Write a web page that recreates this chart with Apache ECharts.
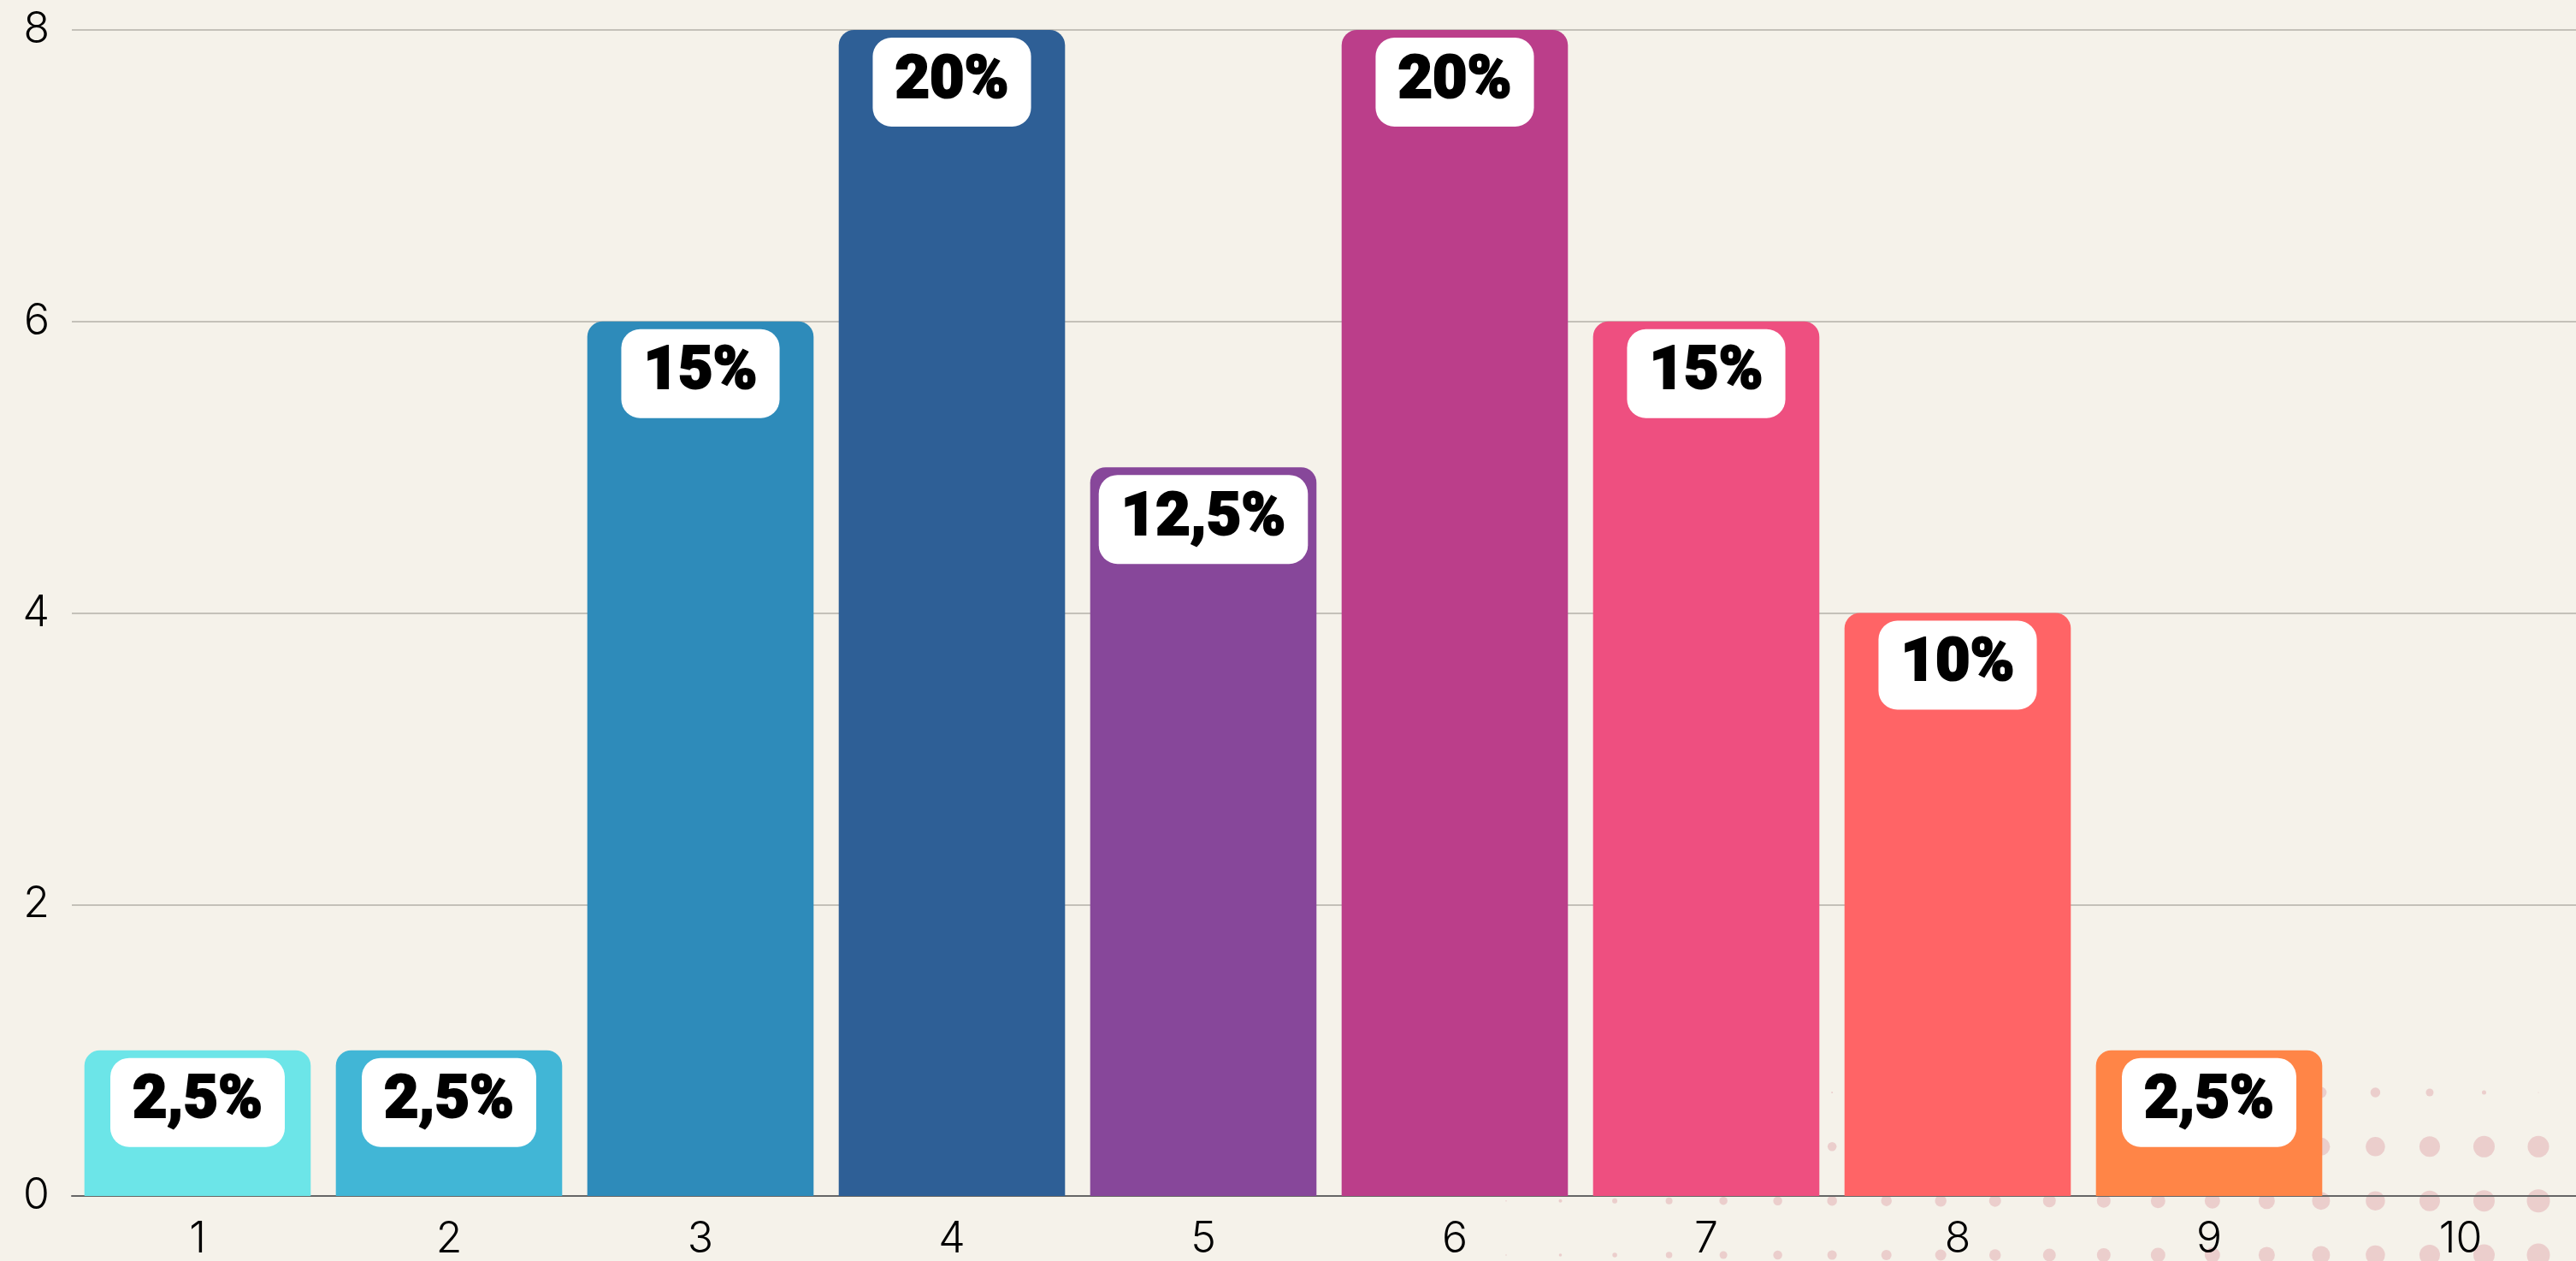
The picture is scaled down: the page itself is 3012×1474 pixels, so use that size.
<!DOCTYPE html>
<html>
<head>
<meta charset="utf-8">
<script src="https://cdn.jsdelivr.net/npm/echarts/dist/echarts.min.js"></script>
<style>
    html, body { margin: 0; padding: 0; background: #f5f2ea; overflow: hidden; }
    /* the plot runs a little past the right edge of the picture */
    #chart { width: 3040px; height: 1474px; }
</style>
</head>
<body>
<div id="chart"></div>
<script>
// categories and counts
const categories = ['1', '2', '3', '4', '5', '6', '7', '8', '9', '10'];
const counts = [1, 1, 6, 8, 5, 8, 6, 4, 1, 0];
const barColors = ['#6ce5e8', '#41b6d6', '#2e8bba', '#2e5f96', '#87479a', '#bb3e8a', '#ee4f80', '#ff6466', '#ff8547', '#ff8547'];
const yTicks = [0, 2, 4, 6, 8];

// decorative halftone dots, bottom row first (sizes)
const dotRow0 = [1.5, 3.5, 5.5, 7.5, 9, 10.5, 11, 12, 13, 13.5, 15, 16, 17, 18, 19, 21, 22.5, 24, 25, 27];
const dotRow1 = [1.5, 4, 6, 8, 9.5, 10.5, 11.5, 12.5, 13.5, 14, 15, 16, 17, 18, 19, 21, 22.5, 24, 25, 27];
const dotRow2 = [0, 2, 4, 6, 8, 9, 10.5, 12, 13, 14, 15, 16, 17, 18, 19, 21, 22.5, 24, 25, 25];
const dotRow3 = [0, 0, 0, 0, 0, 0, 2, 4, 6, 8, 10, 12, 13, 14, 14, 13, 11.5, 9, 5, 1];

const total = counts.reduce((a, b) => a + b, 0);

const dotData = [];
[dotRow0, dotRow1, dotRow2, dotRow3].forEach((row, r) => {
    row.forEach((size, c) => {
        if (size > 0) dotData.push([c, r, size]);
    });
});

const chart = echarts.init(document.getElementById('chart'));

const option = {
    backgroundColor: '#f5f2ea',
    animation: false,
    grid: [
        { left: 84, right: 16, top: 35, bottom: 75 },
        // grid for the dot pattern
        { left: 1761, right: 72, top: 1277, bottom: 7 }
    ],
    xAxis: [
        {
            type: 'category',
            gridIndex: 0,
            data: categories,
            axisTick: { show: false },
            axisLine: { lineStyle: { color: '#666', width: 2 } },
            axisLabel: {
                color: '#000',
                fontSize: 50,
                fontFamily: 'Inter',
                fontWeight: 300,
                margin: 26
            }
        },
        { type: 'value', gridIndex: 1, min: 0, max: 19, show: false }
    ],
    yAxis: [
        {
            type: 'value',
            gridIndex: 0,
            min: yTicks[0],
            max: yTicks[yTicks.length - 1],
            interval: 2,
            axisLabel: {
                color: '#000',
                fontSize: 50,
                fontFamily: 'Inter',
                fontWeight: 300,
                margin: 26
            },
            splitLine: { lineStyle: { color: '#c4c1b9', width: 2 } }
        },
        { type: 'value', gridIndex: 1, min: 0, max: 3, show: false }
    ],
    series: [
        {
            type: 'scatter',
            xAxisIndex: 1,
            yAxisIndex: 1,
            z: -1,
            clip: false,
            silent: true,
            symbol: 'circle',
            symbolSize: d => d[2],
            itemStyle: { color: '#e8c4c4' },
            data: dotData
        },
        {
            type: 'bar',
            xAxisIndex: 0,
            yAxisIndex: 0,
            barCategoryGap: '10%',
            data: counts.map((v, i) => ({
                value: v,
                itemStyle: { color: barColors[i], borderRadius: [18, 18, 0, 0] },
                label: { show: v > 0 }
            })),
            label: {
                show: true,
                position: 'insideTop',
                distance: 9,
                formatter: p => String(p.value / total * 100).replace('.', ',') + '%',
                color: '#000',
                fontFamily: 'Roboto',
                fontWeight: 900,
                fontSize: 70,
                lineHeight: 66,
                textBorderColor: '#000',
                textBorderWidth: 2,
                backgroundColor: '#fff',
                borderRadius: 22,
                padding: [19, 26]
            }
        }
    ]
};

chart.setOption(option);
</script>
</body>
</html>
